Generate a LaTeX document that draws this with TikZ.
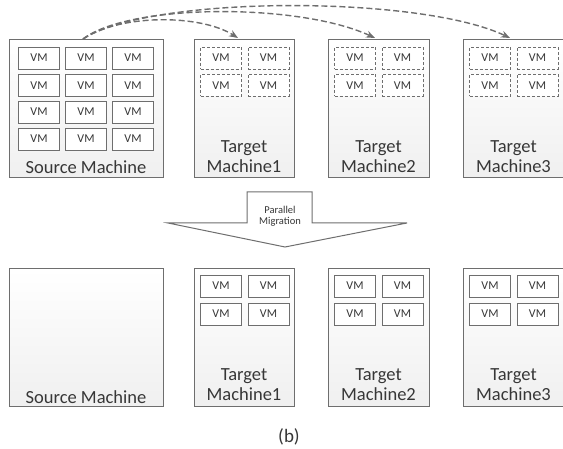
\documentclass[tikz,border=0pt]{standalone}
\usepackage{fontspec}
\setmainfont{Carlito}
\usetikzlibrary{arrows.meta,calc}
\definecolor{lg}{RGB}{110,110,110}
\definecolor{tg}{RGB}{55,55,55}
\begin{document}
\begin{tikzpicture}[x=1pt,y=-1pt,
  machine/.style={draw=lg,line width=1.1pt,top color=white,bottom color=gray!12,minimum width=#1,minimum height=138pt,inner sep=0pt,anchor=north west},
  vm/.style={draw=lg,line width=0.9pt,fill=white,minimum width=41pt,minimum height=22pt,inner sep=0pt,font=\fontsize{12}{12}\selectfont,text=tg},
  vmd/.style={vm,dash pattern=on 3pt off 2pt},
  mlabel/.style={font=\fontsize{18.5}{20}\selectfont,text=tg,align=center,inner sep=0pt},
  migr/.style={draw=lg,line width=1.4pt,dash pattern=on 6pt off 3pt,-{Stealth[length=9pt,width=7pt]}},
  bigarrow/.style={draw=lg,line width=1pt,fill=white}
]
\useasboundingbox (0,0) rectangle (563,449);
\clip (0,0) rectangle (563,449);

% ---------- top row ----------
\node[machine=154pt] (src) at (9,39) {};
\node[machine=100pt] (ta) at (194,39) {};
\node[machine=101pt] (tb) at (328,39) {};
\node[machine=101pt] (tc) at (463,39) {};

\foreach \r/\y in {1/58,2/85.5,3/112,4/139}{
  \foreach \c/\x in {1/39,2/86,3/133}{
    \node[vm] (s\r\c) at (\x,\y) {VM};
  }
}
\foreach \m/\l in {a/194,b/328,c/463}{
  \foreach \r/\y in {1/58,2/85.5}{
    \node[vmd] (t\m\r1) at (\l+27,\y) {VM};
    \node[vmd] (t\m\r2) at (\l+74.5,\y) {VM};
  }
}
\node[mlabel] (srcl) at (86,167) {Source Machine};
\node[mlabel] (tal) at (244,157) {Target\\Machine1};
\node[mlabel] (tbl) at (378.5,157) {Target\\Machine2};
\node[mlabel] (tcl) at (513.5,157) {Target\\Machine3};

% migration arrows
\coordinate (s0) at (83,39);
\coordinate (e1) at (238,38);
\coordinate (e2) at (375,38);
\coordinate (e3) at (510,38);
\draw[migr] (s0) .. controls (120,14) and (200,14) .. (e1);
\draw[migr] (s0) .. controls (130,3) and (300,3) .. (e2);
\draw[migr] (s0) .. controls (150,-5) and (420,-5) .. (e3);

% big arrow
\draw[bigarrow] (247,192) -- (312,192) -- (312,223) -- (407,223) -- (285,247) -- (168,223) -- (247,223) -- cycle;
\node[font=\fontsize{10.5}{11}\selectfont,text=tg,align=center,inner sep=0pt] (pm) at (280,216) {Parallel\\Migration};

% ---------- bottom row ----------
\node[machine=154pt] (src2) at (9,268) {};
\node[machine=100pt] (ta2) at (194,268) {};
\node[machine=101pt] (tb2) at (328,268) {};
\node[machine=101pt] (tc2) at (463,268) {};
\foreach \m/\l in {a/194,b/328,c/463}{
  \foreach \r/\y in {1/286,2/314}{
    \node[vm] (u\m\r1) at (\l+27,\y) {VM};
    \node[vm] (u\m\r2) at (\l+74.5,\y) {VM};
  }
}
\node[mlabel] (src2l) at (86,397) {Source Machine};
\node[mlabel] (ta2l) at (244,385) {Target\\Machine1};
\node[mlabel] (tb2l) at (378.5,385) {Target\\Machine2};
\node[mlabel] (tc2l) at (513.5,385) {Target\\Machine3};

\node[font=\fontsize{19}{20}\selectfont,text=tg,inner sep=0pt] (cap) at (289,437) {(b)};
\end{tikzpicture}
\end{document}
